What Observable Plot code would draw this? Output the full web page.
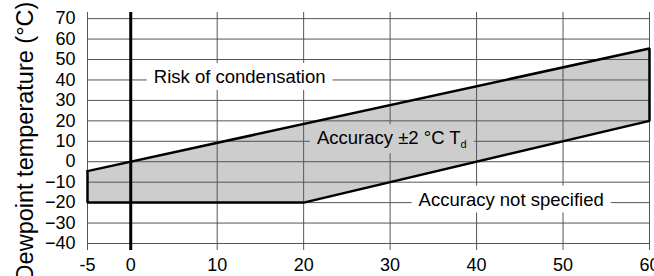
<!DOCTYPE html>
<html><head><meta charset="utf-8">
<script src="https://cdn.jsdelivr.net/npm/d3@7"></script>
<script src="https://cdn.jsdelivr.net/npm/@observablehq/plot@0.6"></script>
<style>body{margin:0;background:#fff}</style>
</head><body><div id="chart"></div>
<script>
const xTicks = [-5, 0, 10, 20, 30, 40, 50, 60];
const yTicks = [-40, -30, -20, -10, 0, 10, 20, 30, 40, 50, 60, 70];
const regionX = [-5, 60, 60, 20, -5, -5];
const regionY = [-4.6, 55.4, 20, -20, -20, -4.6];
const labelText = ["Risk of condensation", "Accuracy ±2 °C Td", "Accuracy not specified"];
const labelX = [12.6, 30.2, 44];
const labelY = [40, 10, -20];
const labelBg = ["white", "#cdcdcd", "white"];
const yTitle = "Dewpoint temperature (°C)";

const region = regionX.map((x, i) => ({x, y: regionY[i]}));
const labels = labelText.map((t, i) => ({text: t, x: labelX[i], y: labelY[i], bg: labelBg[i]}));
const gridColor = "#555";
const fillColor = "#cdcdcd";

const plot = Plot.plot({
  width: 654, height: 276,
  marginLeft: 87, marginRight: 5, marginTop: 12, marginBottom: 33,
  style: {fontFamily: "'Liberation Sans', Arial, Helvetica, sans-serif", fontSize: "18px", color: "#000", background: "#fff"},
  x: {domain: [-5, 60]},
  y: {domain: [-40, 73]},
  marks: [
    Plot.line(region, {x: "x", y: "y", fill: fillColor, stroke: "none"}),
    Plot.ruleY(yTicks, {stroke: gridColor, strokeWidth: 1}),
    Plot.ruleX(xTicks, {stroke: gridColor, strokeWidth: 1, insetBottom: -7}),
    Plot.ruleX([0], {stroke: "#000", strokeWidth: 3, insetBottom: -7}),
    Plot.line(region, {x: "x", y: "y", stroke: "#000", strokeWidth: 2.5, strokeLinejoin: "miter", strokeLinecap: "square"}),
    Plot.axisY(yTicks, {tickSize: 0, tickPadding: 12, fontSize: 18, label: null}),
    Plot.axisX(xTicks, {tickSize: 0, tickPadding: 15, fontSize: 18, label: null, tickFormat: d => String(d)}),
    Plot.text([yTitle], {frameAnchor: "left", rotate: -90, textAnchor: "middle", dx: -62.5, dy: 13.5, fontSize: 23.5}),
    Plot.text(labels, {x: "x", y: "y", text: "text", fontSize: 18.5, dy: -3, textAnchor: "middle"})
  ]
});
document.getElementById("chart").append(plot);

const svg = d3.select(plot);
svg.selectAll("text").filter(function () { return labelText.includes(this.textContent); }).each(function () {
  const t = this;
  const idx = labelText.indexOf(t.textContent);
  if (t.textContent.endsWith("Td")) {
    t.textContent = t.textContent.slice(0, -1);
    d3.select(t).append("tspan").attr("font-size", 11).attr("dy", 4).text("d");
  }
  const b = t.getBBox();
  const padX = 7, padY = 3;
  d3.select(t.parentNode).insert("rect", () => t)
    .attr("transform", t.getAttribute("transform"))
    .attr("x", b.x - padX).attr("y", b.y - padY)
    .attr("width", b.width + 2 * padX).attr("height", b.height + 2 * padY)
    .attr("fill", labelBg[idx]);
});
</script>
</body></html>
